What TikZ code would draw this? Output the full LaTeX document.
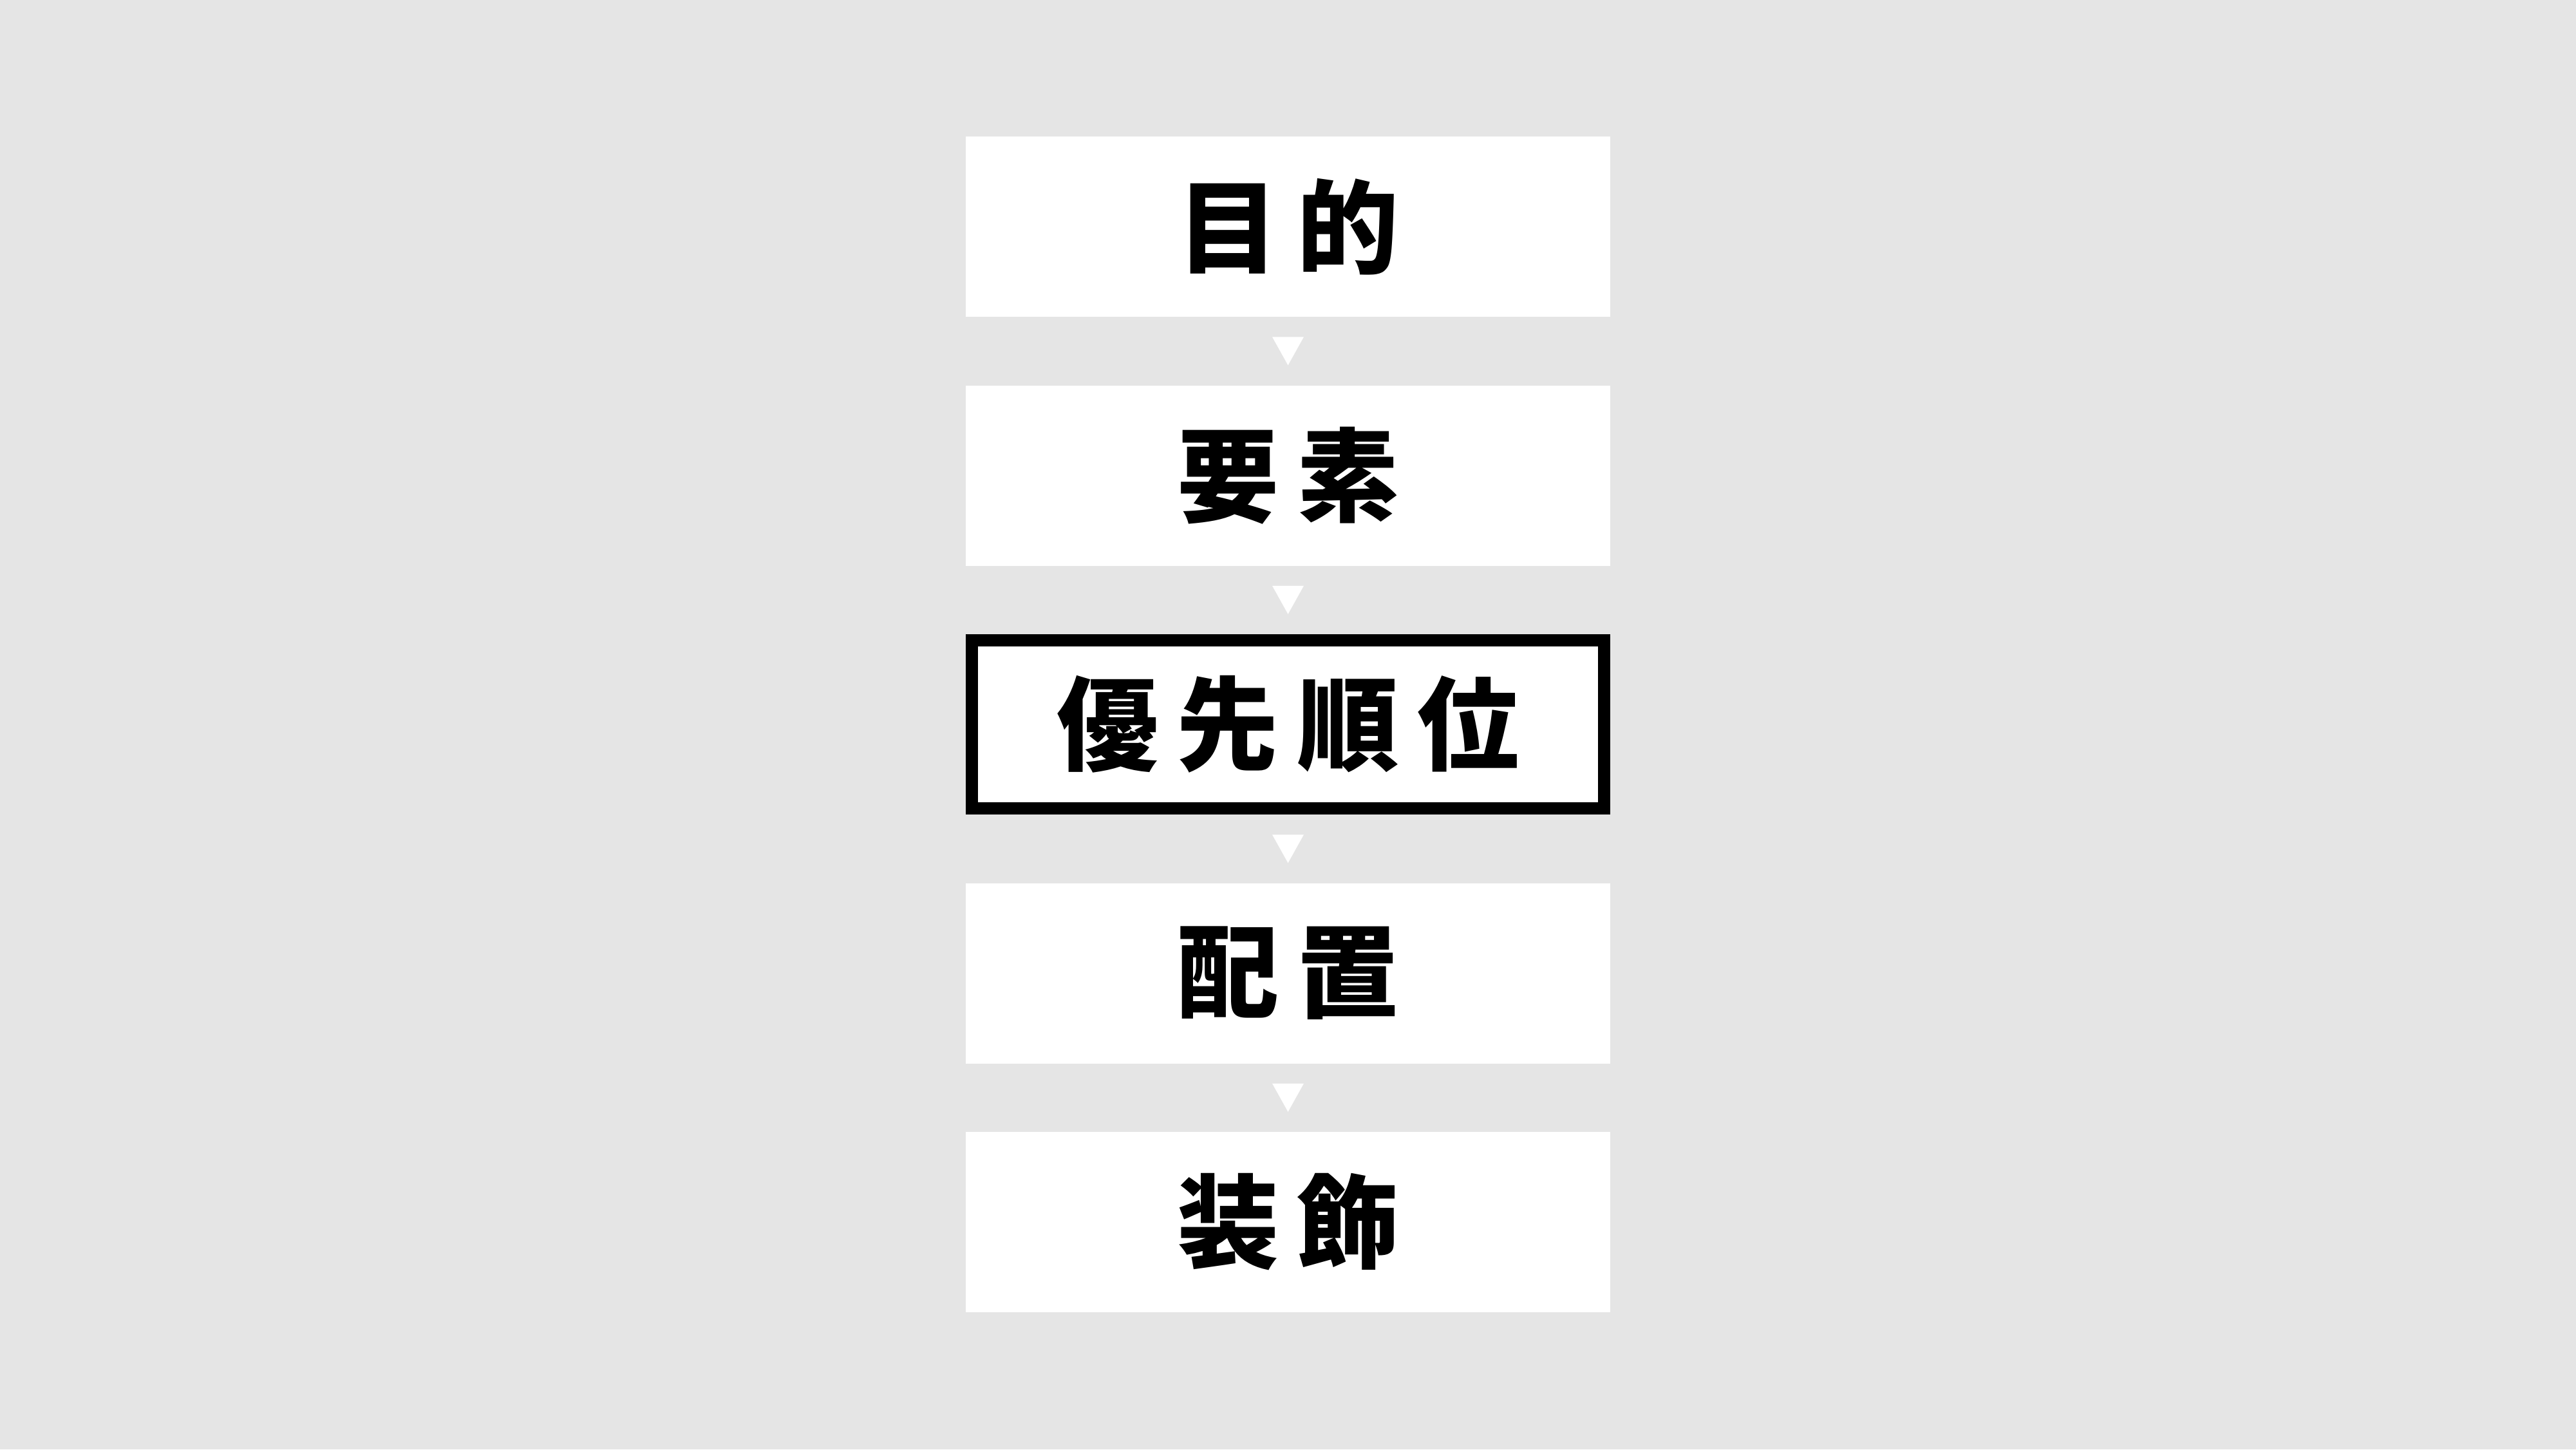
\documentclass[tikz,border=0pt]{standalone}
\usepackage{fontspec}
\newfontfamily\jpfont{Noto Sans CJK JP}[LetterSpace=18]
\usepackage{tikz}
\usetikzlibrary{positioning}
\definecolor{bggray}{HTML}{E5E5E5}

\begin{document}
\begin{tikzpicture}[
    stepbox/.style={fill=white, minimum width=10.01cm, minimum height=2.80cm,
        inner sep=0pt, outer sep=0pt,
        font=\jpfont\bfseries\fontsize{45pt}{50pt}\selectfont},
    keybox/.style={stepbox, draw=black, line width=0.19cm,
        minimum width=9.82cm, minimum height=2.61cm, outer sep=0.095cm},
    node distance=1.065cm
]
% Background
\fill[bggray] (0,0) rectangle (40.01,-22.51);

% Steps
\node[stepbox] (mokuteki) at (20.005,-3.52) {目的};
\node[stepbox, below=of mokuteki] (yoso) {要素};
\node[keybox, below=of yoso] (yusen) {優先順位};
\node[stepbox, below=of yusen] (haichi) {配置};
\node[stepbox, below=of haichi] (soshoku) {装飾};

% Arrows between steps
\foreach \a/\b in {mokuteki/yoso, yoso/yusen, yusen/haichi, haichi/soshoku} {
    \path (\a.south) -- coordinate[midway] (\a-\b) (\b.north);
    \fill[white] ([xshift=-0.245cm, yshift=0.22cm]\a-\b)
        -- ([xshift=0.245cm, yshift=0.22cm]\a-\b)
        -- ([yshift=-0.22cm]\a-\b) -- cycle;
}
\end{tikzpicture}
\end{document}
